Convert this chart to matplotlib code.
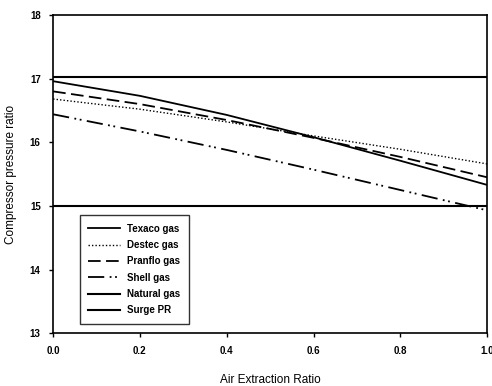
import matplotlib
matplotlib.use('Agg')
import matplotlib.pyplot as plt

plt.rcParams['font.family'] = ['Liberation Sans', 'DejaVu Sans']

# air extraction ratio
x = [0.0, 0.2, 0.4, 0.6, 0.8, 1.0]

texaco = [16.96, 16.73, 16.43, 16.08, 15.71, 15.33]
destec = [16.68, 16.52, 16.32, 16.10, 15.89, 15.66]
pranflo = [16.80, 16.60, 16.35, 16.07, 15.77, 15.45]
shell = [16.44, 16.17, 15.88, 15.57, 15.25, 14.93]
natural = [15.0, 15.0, 15.0, 15.0, 15.0, 15.0]
surge = [17.03, 17.03, 17.03, 17.03, 17.03, 17.03]

fig = plt.figure(figsize=(4.92, 3.86), dpi=100)
ax = fig.add_axes([0.108, 0.137, 0.882, 0.824])

ax.plot(x, texaco, color='black', lw=1.3, label='Texaco gas')
ax.plot(x, destec, color='black', lw=1.0, linestyle=(0, (1, 1.5)), label='Destec gas')
ax.plot(x, pranflo, color='black', lw=1.3, linestyle=(0, (7, 3)), label='Pranflo gas')
ax.plot(x, shell, color='black', lw=1.3, linestyle=(0, (9, 3, 1, 2, 1, 3)), label='Shell gas')
ax.plot(x, natural, color='black', lw=1.5, label='Natural gas')
ax.plot(x, surge, color='black', lw=1.5, label='Surge PR')

ax.set_xlim(0, 1.0)
ax.set_ylim(13, 18)
ax.set_xticks([0.0, 0.2, 0.4, 0.6, 0.8, 1.0])
ax.set_xticklabels(['0.0', '0.2', '0.4', '0.6', '0.8', '1.0'])
ax.set_yticks([13, 14, 15, 16, 17, 18])
ax.tick_params(axis='both', labelsize=7, length=3, width=1, direction='out', pad=6)
for lab in ax.get_xticklabels() + ax.get_yticklabels():
    lab.set_fontweight('bold')
for s in ax.spines.values():
    s.set_linewidth(1.2)

ax.set_xlabel('Air Extraction Ratio', fontsize=8.5, labelpad=13)
ax.set_ylabel('Compressor pressure ratio', fontsize=8.5, labelpad=9)

leg = ax.legend(loc='lower left', bbox_to_anchor=(0.05, 0.013), fontsize=7,
                frameon=True, fancybox=False, edgecolor='black',
                handlelength=3.2, labelspacing=0.65, borderpad=0.9)
leg.get_frame().set_linewidth(1.0)
for t in leg.get_texts():
    t.set_fontweight('bold')

fig.savefig('out.png', dpi=100)
